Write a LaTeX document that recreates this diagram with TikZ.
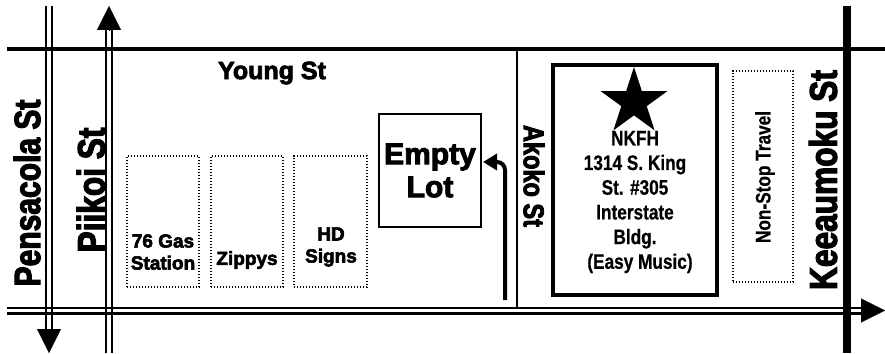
\documentclass[tikz,border=0pt]{standalone}
\usepackage{fontspec}
\usetikzlibrary{arrows.meta, shapes.geometric}
\newfontfamily\plainbold[FakeBold=3]{Liberation Sans Bold}
\newfontfamily\roadbold[FakeStretch=0.82,FakeBold=3]{Liberation Sans Bold}
\newfontfamily\narrowbold[FakeStretch=0.82,FakeBold=0.6]{Liberation Sans Bold}
\tikzset{
    road/.style={line width=2.4pt},
    street/.style={line width=4pt},
    roadtip/.style={-{Triangle[width=24pt,length=24pt]}, line width=0.1pt, shorten >=0pt},
    shopbox/.style={draw, dash pattern=on 1.4pt off 1.6pt, line width=1.5pt, inner sep=0pt},
    shoptext/.style={font=\plainbold\fontsize{19}{22}\selectfont, align=center, inner sep=0pt},
    roadname/.style={inner sep=0pt, rotate=90},
}
\begin{document}
\begin{tikzpicture}[x=1pt,y=-1pt]
    \useasboundingbox (0,0) rectangle (885,353);
    \coordinate (youngw) at (7,49);
    \coordinate (younge) at (885,49);
    \coordinate (kingw) at (7,310.5);
    \coordinate (kinge) at (872,310.5);
    \coordinate (kingtip) at (885,310.5);
    \coordinate (pensn) at (49,6);
    \coordinate (penss) at (49,330);
    \coordinate (penstip) at (49,353);
    \coordinate (piikois) at (109,353);
    \coordinate (piikoin) at (109,30);
    \coordinate (piikoitip) at (109,6);
    \coordinate (akokon) at (517,49);
    \coordinate (akokos) at (517,307);
    \coordinate (keean) at (847,6);
    \coordinate (keeas) at (847,353);
    \coordinate (turnstart) at (505,300);
    \coordinate (turnend) at (483,162);

    \draw[street] (youngw) -- (younge);
    \draw[line width=2pt] (akokon) -- (akokos);
    \draw[road] ([yshift=2.8pt]kingw) -- ([yshift=2.8pt]kinge);
    \draw[road] ([yshift=-2.8pt]kingw) -- ([yshift=-2.8pt]kinge);
    \draw[roadtip] (kinge) -- (kingtip);
    \draw[road] ([xshift=-2.8pt]pensn) -- ([xshift=-2.8pt]penss);
    \draw[road] ([xshift=2.8pt]pensn) -- ([xshift=2.8pt]penss);
    \draw[roadtip] (penss) -- (penstip);
    \draw[road] ([xshift=-2.8pt]piikois) -- ([xshift=-2.8pt]piikoin);
    \draw[road] ([xshift=2.8pt]piikois) -- ([xshift=2.8pt]piikoin);
    \draw[roadtip] (piikoin) -- (piikoitip);
    \draw[line width=8pt] (keean) -- (keeas);

    \node[shopbox, minimum width=72pt, minimum height=131pt] (gasbox) at (163,221.5) {};
    \node[shopbox, minimum width=72pt, minimum height=131pt] (zippybox) at (247,221.5) {};
    \node[shopbox, minimum width=73pt, minimum height=131pt] (hdbox) at (330.5,221.5) {};
    \node[shopbox, minimum width=60pt, minimum height=211pt] (travelbox) at (763,176.5) {};
    \node[draw, line width=3.5pt, minimum width=164pt, minimum height=230pt, inner sep=0pt] (nkfhbox) at (635,180) {};
    \node[draw, line width=2pt, minimum width=102pt, minimum height=113pt, inner sep=0pt, align=center,
        font=\plainbold\fontsize{30}{33}\selectfont] (lot) at (430,170.5) {Empty\\Lot};

    \draw[line width=4pt, rounded corners=8pt, -{Triangle[width=16pt,length=14pt]}] (turnstart) |- (turnend);

    \node[star, star points=5, star point ratio=2.618, fill=black, minimum size=70pt, inner sep=0pt] (mark) at (634,102) {};

    \node[inner sep=0pt, font=\plainbold\fontsize{25}{25}\selectfont] (youngname) at (272,73) {Young St};
    \node[roadname, font=\roadbold\fontsize{36.6}{36.6}\selectfont] (pensname) at (27,193) {Pensacola St};
    \node[roadname, font=\roadbold\fontsize{38.6}{38.6}\selectfont] (piikoiname) at (91,190) {Piikoi St};
    \node[roadname, font=\roadbold\fontsize{38.6}{38.6}\selectfont] (keeaname) at (823,180) {Keeaumoku St};
    \node[inner sep=0pt, rotate=-90, font=\roadbold\fontsize{28.7}{28.7}\selectfont] (akokoname) at (534,176) {Akoko St};

    \node[shoptext] (gasname) at (163,252) {76 Gas\\Station};
    \node[shoptext] (zippyname) at (247,260) {Zippys};
    \node[shoptext] (hdname) at (331,247) {HD\\Signs};
    \node[inner sep=0pt, align=center, font=\narrowbold\fontsize{21}{24.7}\selectfont] (nkfhname) at (635,202) {NKFH\\1314 S. King\\St. \#305\\Interstate\\Bldg.\\\hspace*{10pt}(Easy Music)};
    \node[inner sep=0pt, rotate=90, font=\narrowbold\fontsize{21}{21}\selectfont] (travelname) at (765,177) {Non-Stop Travel};
\end{tikzpicture}
\end{document}
